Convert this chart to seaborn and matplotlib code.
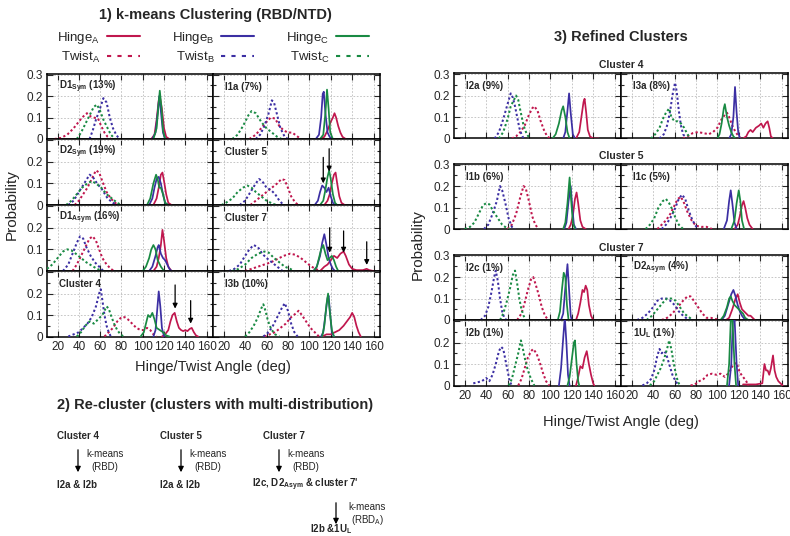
import matplotlib
matplotlib.use("Agg")
import matplotlib.pyplot as plt
import seaborn as sns
import pandas as pd
from matplotlib.lines import Line2D
from matplotlib.patches import FancyArrowPatch
from matplotlib.ticker import FixedLocator

# ---------------------------------------------------------------- data
# each series: list of [angle (deg), probability]
D1_SYM = {
    "Hinge A": [[108,0],[111,0.02],[113,0.09],[115,0.18],[116,0.2],[118,0.14],[120,0.05],[122,0.01],[125,0]],
    "Hinge B": [[109,0],[112,0.03],[114,0.12],[115.5,0.2],[117,0.13],[119,0.03],[121,0]],
    "Hinge C": [[110,0],[113,0.05],[115,0.17],[116,0.225],[117.5,0.15],[119,0.04],[121,0]],
    "Twist A": [[17,0],[23,0.005],[29,0.02],[35,0.05],[43,0.1],[47.5,0.12],[51,0.105],[54,0.1],[58,0.095],[61,0.06],[64,0.03],[67,0.01],[70,0]],
    "Twist B": [[50,0],[53,0.04],[56,0.09],[59,0.13],[63,0.19],[66,0.17],[69,0.1],[72,0.05],[75,0.02],[78,0]],
    "Twist C": [[38,0],[42,0.03],[45,0.06],[49,0.1],[54,0.15],[57,0.16],[60,0.13],[63,0.09],[66,0.06],[70,0.02],[74,0]],
}
I1A = {
    "Hinge A": [[110,0],[114,0.01],[117,0.04],[120,0.08],[122,0.1],[123.5,0.12],[125,0.1],[127,0.06],[129,0.03],[131,0.01],[134,0]],
    "Hinge B": [[106,0],[109,0.02],[111,0.1],[112.5,0.21],[113.5,0.22],[115,0.12],[117,0.03],[119,0.01],[121,0]],
    "Hinge C": [[110,0],[113,0.02],[115,0.12],[116.5,0.23],[118,0.14],[119.5,0.03],[122,0]],
    "Twist A": [[44,0],[50,0.02],[55,0.05],[60,0.08],[64,0.1],[68,0.095],[72,0.06],[76,0.04],[80,0.03],[84,0.03],[88,0.015],[92,0]],
    "Twist B": [[50,0],[54,0.02],[58,0.06],[62,0.12],[65,0.18],[67,0.17],[70,0.11],[73,0.05],[77,0.01],[80,0]],
    "Twist C": [[28,0],[33,0.02],[38,0.06],[43,0.11],[46,0.13],[50,0.12],[55,0.08],[60,0.05],[65,0.03],[70,0.01],[74,0]],
}
D2_SYM = {
    "Hinge A": [[110,0],[113,0.03],[115,0.08],[117,0.14],[118.5,0.15],[120,0.11],[122,0.05],[124,0.01],[127,0]],
    "Hinge B": [[106,0],[109,0.03],[111,0.08],[113,0.12],[115,0.13],[117,0.1],[119,0.05],[121,0.01],[124,0]],
    "Hinge C": [[104,0],[107,0.03],[110,0.1],[112.5,0.14],[114,0.12],[115.5,0.08],[117,0.08],[119,0.05],[121,0.01],[124,0]],
    "Twist A": [[36,0],[40,0.02],[44,0.05],[48,0.08],[52,0.12],[56,0.16],[59,0.15],[62,0.11],[66,0.06],[70,0.03],[74,0.01],[77,0]],
    "Twist B": [[30,0],[35,0.02],[40,0.06],[45,0.1],[50,0.14],[53,0.13],[57,0.1],[62,0.07],[67,0.03],[72,0.01],[76,0]],
    "Twist C": [[28,0],[33,0.02],[38,0.05],[43,0.08],[48,0.1],[52,0.11],[56,0.1],[61,0.08],[66,0.05],[71,0.03],[76,0.01],[80,0]],
}
CLUSTER_5 = {
    "Hinge A": [[114,0],[117,0.02],[119,0.05],[121,0.1],[123,0.14],[124.5,0.15],[126,0.1],[128,0.04],[130,0.01],[133,0]],
    "Hinge B": [[105,0],[108,0.02],[110,0.06],[112,0.09],[114,0.08],[116,0.06],[118,0.08],[120,0.04],[122,0.01],[124,0]],
    "Hinge C": [[110,0],[113,0.02],[115,0.07],[117,0.13],[118.5,0.16],[120,0.12],[122,0.05],[124,0.01],[126,0]],
    "Twist A": [[45,0],[50,0.02],[55,0.04],[60,0.06],[65,0.08],[70,0.1],[74,0.12],[77,0.115],[80,0.08],[83,0.04],[87,0.01],[90,0]],
    "Twist B": [[35,0],[40,0.02],[45,0.06],[50,0.1],[53,0.12],[56,0.11],[60,0.08],[64,0.07],[68,0.05],[72,0.02],[76,0]],
    "Twist C": [[18,0],[22,0.01],[28,0.03],[33,0.06],[38,0.08],[42,0.09],[46,0.08],[50,0.06],[55,0.04],[60,0.02],[66,0.005],[70,0]],
}
D1_ASYM = {
    "Hinge A": [[110,0],[113,0.02],[115,0.06],[117,0.12],[118.5,0.19],[120,0.14],[122,0.06],[124,0.02],[127,0]],
    "Hinge B": [[106,0],[109,0.02],[112,0.07],[114,0.11],[115,0.12],[117,0.08],[119,0.06],[121,0.05],[123,0.03],[125,0.01],[127,0]],
    "Hinge C": [[100,0],[103,0.02],[106,0.06],[108,0.1],[110,0.12],[112,0.1],[114,0.05],[117,0.02],[120,0]],
    "Twist A": [[34,0],[38,0.03],[42,0.07],[46,0.11],[50,0.15],[53,0.16],[56,0.14],[59,0.1],[62,0.06],[66,0.03],[70,0.01],[73,0]],
    "Twist B": [[25,0],[30,0.03],[34,0.08],[38,0.13],[41,0.16],[44,0.15],[47,0.11],[51,0.07],[55,0.04],[59,0.02],[63,0]],
    "Twist C": [[10,0.01],[15,0.03],[20,0.06],[25,0.09],[29,0.1],[33,0.095],[37,0.08],[42,0.06],[47,0.04],[52,0.025],[57,0.01],[62,0]],
}
CLUSTER_7 = {
    "Hinge A": [[110,0],[114,0.02],[117,0.03],[120,0.05],[123,0.07],[126,0.06],[129,0.08],[132,0.09],[134,0.07],[137,0.03],[140,0.01],[144,0.004],[150,0.004],[153.5,0.01],[156,0.004],[160,0]],
    "Hinge B": [[104,0],[107,0.02],[110,0.07],[112,0.13],[114,0.17],[116,0.12],[118,0.06],[120,0.03],[122,0.01],[124,0]],
    "Hinge C": [[104,0],[107,0.02],[109,0.06],[111,0.1],[113,0.12],[115,0.08],[117,0.05],[119,0.06],[121,0.07],[123,0.05],[125,0.02],[127,0]],
    "Twist A": [[40,0],[46,0.01],[52,0.02],[58,0.03],[64,0.04],[70,0.055],[76,0.07],[82,0.08],[87,0.075],[92,0.06],[97,0.04],[102,0.02],[106,0.01],[110,0]],
    "Twist B": [[25,0],[30,0.01],[35,0.03],[40,0.07],[44,0.1],[48,0.12],[52,0.11],[56,0.08],[60,0.06],[65,0.04],[70,0.02],[75,0]],
    "Twist C": [[28,0],[34,0.01],[40,0.03],[46,0.06],[52,0.08],[58,0.09],[62,0.085],[67,0.06],[72,0.04],[77,0.02],[82,0.01],[86,0]],
}
CLUSTER_4 = {
    "Hinge A": [[118,0],[121,0.01],[124,0.03],[126,0.07],[128,0.1],[130,0.11],[132,0.07],[134,0.04],[136,0.03],[138,0.025],[140,0.03],[142,0.025],[144,0.035],[146,0.04],[148,0.02],[150,0.005],[152,0]],
    "Hinge B": [[110,0],[112,0.03],[113.5,0.12],[115,0.21],[116.5,0.14],[118,0.04],[120,0]],
    "Hinge C": [[98,0],[101,0.02],[103,0.06],[105,0.1],[107,0.09],[109,0.11],[111,0.08],[113,0.04],[116,0.03],[119,0.02],[122,0.005],[125,0]],
    "Twist A": [[64,0],[68,0.02],[72,0.04],[76,0.07],[80,0.09],[83,0.09],[86,0.08],[90,0.06],[94,0.04],[98,0.03],[101,0.03],[104,0.04],[107,0.03],[110,0.01],[113,0]],
    "Twist B": [[30,0],[35,0.01],[40,0.02],[44,0.04],[48,0.06],[52,0.09],[56,0.14],[59,0.2],[60.5,0.22],[62,0.17],[64,0.1],[66,0.05],[68,0.02],[70,0]],
    "Twist C": [[38,0],[42,0.02],[46,0.05],[50,0.07],[54,0.06],[58,0.08],[62,0.1],[64,0.12],[66,0.14],[68,0.13],[70,0.1],[73,0.06],[76,0.03],[79,0.01],[82,0]],
}
I3B = {
    "Hinge A": [[112,0],[116,0.01],[120,0.01],[124,0.02],[128,0.03],[132,0.05],[135,0.07],[138,0.09],[140,0.11],[142,0.09],[144,0.05],[146,0.02],[148,0]],
    "Hinge B": [[111,0],[113,0.02],[115,0.1],[117,0.18],[118,0.19],[119.5,0.1],[121,0.02],[123,0]],
    "Hinge C": [[112,0],[114,0.05],[116,0.15],[117.5,0.2],[119,0.12],[121,0.03],[123,0]],
    "Twist A": [[58,0],[63,0.01],[68,0.02],[73,0.04],[78,0.06],[83,0.09],[88,0.11],[90,0.12],[93,0.1],[97,0.07],[101,0.04],[105,0.02],[109,0]],
    "Twist B": [[57,0],[62,0.02],[66,0.05],[70,0.09],[74,0.13],[77,0.155],[80,0.12],[83,0.06],[86,0.02],[89,0]],
    "Twist C": [[40,0],[44,0.02],[48,0.05],[52,0.09],[55,0.13],[57,0.15],[59,0.12],[61,0.08],[63,0.05],[65,0.03],[68,0.01],[72,0]],
}
I2A = {
    "Hinge A": [[124,0],[127,0.03],[129,0.1],[131,0.17],[132,0.185],[133.5,0.12],[135,0.04],[137,0.01],[140,0],[145,0]],
    "Hinge B": [[112,0],[114,0.03],[116,0.13],[117.5,0.21],[119,0.12],[121,0.02],[123,0]],
    "Hinge C": [[102,0],[105,0.02],[108,0.07],[110.5,0.13],[112,0.15],[114,0.1],[116,0.03],[118,0]],
    "Twist A": [[64,0],[68,0.01],[72,0.03],[76,0.06],[80,0.11],[83,0.14],[85,0.15],[88,0.13],[91,0.08],[94,0.04],[97,0.01],[100,0]],
    "Twist B": [[48,0],[52,0.03],[56,0.09],[60,0.16],[63,0.21],[65,0.19],[67,0.15],[69,0.1],[71,0.05],[73,0.02],[75,0]],
    "Twist C": [[52,0],[56,0.03],[60,0.09],[63,0.15],[66,0.18],[68,0.2],[70,0.18],[72,0.13],[75,0.06],[78,0.02],[81,0]],
}
I3A = {
    "Hinge A": [[124,0],[127,0.01],[129,0.03],[131,0.04],[133,0.03],[136,0.05],[139,0.06],[141,0.07],[143,0.05],[145,0.07],[147,0.08],[148.5,0.05],[150,0.01],[152,0]],
    "Hinge B": [[111,0],[113,0.02],[115,0.1],[116.5,0.24],[118,0.12],[119.5,0.03],[121,0]],
    "Hinge C": [[100,0],[102,0.02],[104,0.07],[106,0.14],[107,0.16],[109,0.1],[111,0.06],[113,0.03],[115,0.01],[117,0]],
    "Twist A": [[68,0],[72,0.01],[77,0.025],[82,0.03],[87,0.025],[92,0.02],[96,0.03],[100,0.05],[104,0.09],[107,0.11],[109,0.12],[111,0.1],[114,0.06],[117,0.03],[120,0.01],[122,0]],
    "Twist B": [[46,0],[50,0.02],[53,0.06],[56,0.13],[58,0.2],[60.5,0.26],[62,0.22],[64,0.13],[66,0.06],[68,0.02],[71,0]],
    "Twist C": [[38,0],[42,0.02],[46,0.05],[49,0.09],[52,0.12],[55,0.14],[57,0.1],[60,0.08],[63,0.08],[66,0.07],[69,0.05],[72,0.02],[75,0]],
}
I1B = {
    "Hinge A": [[117,0],[119,0.02],[121,0.06],[123,0.14],[124.5,0.17],[126,0.12],[128,0.04],[130,0.01],[133,0]],
    "Hinge B": [[113,0],[115,0.03],[117,0.13],[119,0.2],[120.5,0.1],[122,0.02],[124,0]],
    "Hinge C": [[112,0],[114,0.03],[116,0.12],[118,0.24],[119.5,0.13],[121,0.03],[123,0]],
    "Twist A": [[60,0],[64,0.02],[68,0.07],[72,0.15],[75,0.2],[77,0.19],[80,0.13],[83,0.06],[86,0.02],[89,0]],
    "Twist B": [[38,0],[42,0.02],[46,0.07],[50,0.13],[53,0.2],[55,0.18],[58,0.12],[61,0.05],[64,0.01],[67,0]],
    "Twist C": [[20,0],[25,0.01],[29,0.03],[33,0.07],[37,0.11],[40,0.12],[43,0.115],[47,0.08],[51,0.05],[55,0.02],[59,0.005],[62,0]],
}
I1C = {
    "Hinge A": [[116,0],[119,0.02],[121,0.06],[123,0.11],[124.5,0.13],[126,0.1],[128,0.05],[130,0.02],[133,0]],
    "Hinge B": [[106,0],[109,0.04],[111,0.13],[112.5,0.18],[114,0.12],[116,0.03],[118,0]],
    "Hinge C": [[113,0],[116,0.04],[118,0.12],[120,0.18],[121.5,0.13],[123,0.04],[125,0]],
    "Twist A": [[44,0],[48,0.02],[52,0.04],[56,0.07],[60,0.11],[63,0.14],[66,0.15],[69,0.12],[72,0.08],[76,0.04],[80,0.015],[85,0.01],[90,0.01],[95,0]],
    "Twist B": [[48,0],[52,0.02],[56,0.05],[60,0.09],[64,0.14],[67,0.16],[70,0.14],[73,0.09],[76,0.05],[79,0.02],[82,0]],
    "Twist C": [[33,0],[37,0.02],[41,0.05],[45,0.1],[49,0.13],[52,0.14],[55,0.12],[58,0.09],[61,0.05],[64,0.02],[68,0]],
}
I2C = {
    "Hinge A": [[124,0],[126,0.03],[128,0.08],[130,0.14],[131.5,0.13],[133,0.16],[134.5,0.14],[136,0.07],[138,0.02],[140,0]],
    "Hinge B": [[110,0],[112,0.03],[114,0.15],[116,0.26],[117.5,0.14],[119,0.02],[120,0]],
    "Hinge C": [[107,0],[109,0.04],[111,0.15],[112.5,0.22],[114,0.2],[115.5,0.07],[117,0]],
    "Twist A": [[69,0],[73,0.03],[76,0.08],[79,0.14],[82,0.19],[84,0.2],[86,0.17],[89,0.12],[92,0.06],[95,0.02],[98,0]],
    "Twist B": [[35,0],[39,0.02],[42,0.06],[45,0.13],[47.5,0.2],[49,0.23],[51,0.18],[53,0.1],[55,0.04],[57,0.01],[59,0]],
    "Twist C": [[53,0],[56,0.03],[59,0.08],[62,0.14],[65,0.21],[67,0.23],[69,0.17],[71,0.1],[73,0.05],[75,0.02],[77,0]],
}
D2_ASYM = {
    "Hinge A": [[108,0],[111,0.01],[114,0.05],[117,0.1],[119,0.12],[121,0.08],[123,0.05],[125,0.04],[127,0.03],[129,0.02],[131,0.02],[133,0.01],[135,0]],
    "Hinge B": [[104,0],[107,0.02],[110,0.07],[113,0.12],[115,0.14],[117,0.11],[119,0.07],[121,0.04],[123,0.02],[126,0]],
    "Hinge C": [[103,0],[106,0.02],[109,0.06],[111,0.1],[112.5,0.11],[114,0.09],[116,0.07],[118,0.06],[120,0.05],[122,0.04],[124,0.03],[126,0.01],[129,0]],
    "Twist A": [[48,0],[53,0.01],[58,0.03],[63,0.06],[68,0.09],[72,0.11],[75,0.11],[78,0.09],[82,0.06],[86,0.03],[90,0.01],[94,0.01],[98,0.005],[102,0]],
    "Twist B": [[25,0],[30,0.01],[35,0.03],[40,0.06],[44,0.09],[48,0.1],[52,0.1],[56,0.09],[60,0.07],[64,0.04],[68,0.02],[72,0.005],[76,0]],
    "Twist C": [[34,0],[39,0.02],[44,0.05],[49,0.08],[53,0.1],[57,0.1],[61,0.09],[65,0.06],[69,0.03],[73,0.015],[77,0]],
}
I2B = {
    "Hinge A": [[124,0],[126,0.04],[128,0.09],[130,0.08],[132,0.13],[134,0.16],[136,0.1],[138,0.05],[140,0.01],[141,0]],
    "Hinge B": [[108,0],[110,0.08],[112,0.22],[113.5,0.32],[115,0.2],[116.5,0.05],[118,0]],
    "Hinge C": [[116,0],[118,0.04],[120,0.12],[122,0.2],[123,0.21],[124.5,0.1],[126,0.02],[127,0]],
    "Twist A": [[70,0],[73,0.03],[76,0.08],[79,0.13],[82,0.16],[84,0.17],[87,0.15],[90,0.11],[93,0.06],[96,0.02],[99,0]],
    "Twist B": [[28,0.01],[32,0.015],[36,0.02],[40,0.035],[43,0.02],[46,0.05],[49,0.1],[52,0.16],[54,0.18],[56,0.17],[58,0.12],[60,0.07],[62,0.02],[64,0]],
    "Twist C": [[61,0],[64,0.03],[67,0.09],[70,0.15],[72.5,0.21],[74,0.18],[76,0.13],[79,0.07],[82,0.03],[85,0]],
}
U1L = {
    "Hinge A": [[124,0.005],[130,0.005],[136,0.005],[142,0.01],[144,0.1],[145.5,0.07],[147,0.07],[148.5,0.05],[150,0.08],[152,0.14],[153.5,0.07],[155,0.04],[157,0.02],[159,0.01],[161,0]],
    "Hinge B": [[111,0],[113,0.1],[114.5,0.3],[116,0.32],[118,0.1],[119.5,0]],
    "Hinge C": [[109,0],[111,0.1],[112.5,0.3],[114,0.32],[116,0.1],[117.5,0]],
    "Twist A": [[75,0],[79,0.005],[83,0.02],[87,0.03],[91,0.05],[95,0.055],[99,0.05],[103,0.055],[107,0.04],[111,0.06],[115,0.1],[118,0.105],[121,0.06],[124,0.04],[127,0.02],[129,0]],
    "Twist B": [[30,0],[34,0.01],[38,0.03],[41,0.07],[44,0.14],[46,0.17],[48,0.15],[50,0.16],[52,0.15],[55,0.1],[58,0.05],[61,0.02],[64,0]],
    "Twist C": [[37,0],[41,0.02],[44,0.05],[47,0.08],[50,0.12],[53,0.17],[55,0.21],[57,0.17],[59,0.11],[61,0.06],[63,0.02],[65,0]],
}

LEFT_PANELS = [D1_SYM, I1A, D2_SYM, CLUSTER_5, D1_ASYM, CLUSTER_7, CLUSTER_4, I3B]
LEFT_LABELS = [r"D1$_{\mathbf{Sym}}$ (13%)", "I1a (7%)", r"D2$_{\mathbf{Sym}}$ (19%)", "Cluster 5",
               r"D1$_{\mathbf{Asym}}$ (16%)", "Cluster 7", "Cluster 4", "I3b (10%)"]
RIGHT_PANELS = [I2A, I3A, I1B, I1C, I2C, D2_ASYM, I2B, U1L]
RIGHT_LABELS = ["I2a (9%)", "I3a (8%)", "I1b (6%)", "I1c (5%)", "I2c (1%)",
                r"D2$_{\mathbf{Asym}}$ (4%)", "I2b (1%)", r"1U$_{\mathbf{L}}$ (1%)"]
RIGHT_GROUPS = ["Cluster 4", "Cluster 5", "Cluster 7"]

# arrows marking sub-populations: panel index -> [angle, tip prob, tail prob]
ARROWS = {
    3: [[113, 0.10, 0.22], [118.5, 0.155, 0.26]],
    5: [[119, 0.085, 0.20], [132, 0.085, 0.185], [153.6, 0.028, 0.135]],
    6: [[130.4, 0.13, 0.24], [145, 0.06, 0.167]],
}

ANGLE_TICKS = [20, 40, 60, 80, 100, 120, 140, 160]
PROB_TICKS = [0, 0.1, 0.2, 0.3]
PROB_TICK_LABELS = ["0", "0.1", "0.2", "0.3"]

PALETTE = {"A": "#c0174e", "B": "#3c2fa3", "C": "#198a43"}

# ---------------------------------------------------------------- style
sns.set_style("white")
FONT = "Liberation Sans"
plt.rcParams["font.family"] = [FONT, "DejaVu Sans"]
plt.rcParams["mathtext.fontset"] = "custom"
plt.rcParams["mathtext.rm"] = FONT
plt.rcParams["mathtext.it"] = FONT + ":italic"
plt.rcParams["mathtext.bf"] = FONT + ":bold"

W, H = 790, 536
fig = plt.figure(figsize=(W / 100, H / 100), dpi=100)
fig.patch.set_facecolor("white")


def box(x0, y0, x1, y1):
    return [x0 / W, 1 - y1 / H, (x1 - x0) / W, (y1 - y0) / H]


def fx(x):
    return x / W


def fy(y):
    return 1 - y / H


def to_frame(panel):
    rows = []
    for series, pts in panel.items():
        kind, chain = series.split()
        for a, p in pts:
            rows.append((series, kind, chain, a, p))
    return pd.DataFrame(rows, columns=["series", "kind", "chain", "angle", "prob"])


def draw_panel(ax, panel, label, show_xlab, show_ylab, show_top_lab):
    df = to_frame(panel)
    sns.lineplot(data=df, x="angle", y="prob", hue="chain", style="kind", size="kind",
                 units="series", estimator=None, sort=True,
                 palette=PALETTE, dashes={"Hinge": "", "Twist": (1.1, 1.2)},
                 sizes={"Hinge": 1.25, "Twist": 1.45}, legend=False, ax=ax, zorder=3)
    ax.set_xlim(10, 166)
    ax.set_ylim(0, 0.305)
    ax.set_xlabel("")
    ax.set_ylabel("")
    ax.xaxis.set_major_locator(FixedLocator(ANGLE_TICKS))
    ax.yaxis.set_major_locator(FixedLocator(PROB_TICKS))
    ax.yaxis.set_minor_locator(FixedLocator([0.05, 0.15, 0.25]))
    ax.set_yticklabels(PROB_TICK_LABELS)
    ax.set_xticklabels([str(t) for t in ANGLE_TICKS])
    ax.tick_params(which="both", direction="in", top=True, right=True, bottom=True, left=True,
                   labelsize=8.5, pad=3, width=0.8)
    ax.tick_params(which="major", length=4)
    ax.tick_params(which="minor", length=2.5)
    ax.tick_params(labelbottom=show_xlab, labelleft=show_ylab)
    if show_ylab and not show_top_lab:
        ax.get_yticklabels()[-1].set_visible(False)
    ax.grid(True, which="major", color="#bdbdbd", linestyle=(0, (2, 2)), linewidth=0.6, zorder=0)
    for s in ax.spines.values():
        s.set_color("black")
        s.set_linewidth(1.1)
    ax.text(0.072, 0.80, label, transform=ax.transAxes, fontsize=7, fontweight="bold",
            va="center", ha="left")


# ---------------------------------------------------------------- left block
L_COLS = [(47, 213), (213, 380)]
L_ROWS = [(73.5, 139), (139, 205), (205, 271), (271, 336.5)]
for i, (panel, lab) in enumerate(zip(LEFT_PANELS, LEFT_LABELS)):
    r, c = divmod(i, 2)
    ax = fig.add_axes(box(L_COLS[c][0], L_ROWS[r][0], L_COLS[c][1], L_ROWS[r][1]))
    draw_panel(ax, panel, lab, show_xlab=(r == 3), show_ylab=(c == 0), show_top_lab=(r == 0))
    for ang, tip, tail in ARROWS.get(i, []):
        ax.annotate("", xy=(ang, tip), xytext=(ang, tail),
                    arrowprops=dict(arrowstyle="-|>", color="black", lw=0.9,
                                    mutation_scale=7, shrinkA=0, shrinkB=0), zorder=5)

# ---------------------------------------------------------------- right block
R_COLS = [(454, 621), (621, 788)]
R_ROWS = [(73, 138.5), (163.5, 229), (254.5, 320), (320, 385.5)]
for i, (panel, lab) in enumerate(zip(RIGHT_PANELS, RIGHT_LABELS)):
    r, c = divmod(i, 2)
    ax = fig.add_axes(box(R_COLS[c][0], R_ROWS[r][0], R_COLS[c][1], R_ROWS[r][1]))
    draw_panel(ax, panel, lab, show_xlab=(r == 3), show_ylab=(c == 0), show_top_lab=(r < 3))

# ---------------------------------------------------------------- texts
fig.text(fx(215), fy(15), "1) k-means Clustering (RBD/NTD)", ha="center", va="center",
         fontsize=10.5, fontweight="bold")
fig.text(fx(621), fy(37), "3) Refined Clusters", ha="center", va="center",
         fontsize=10.5, fontweight="bold")
for txt, yy in zip(RIGHT_GROUPS, [65, 156, 248]):
    fig.text(fx(621), fy(yy), txt, ha="center", va="center", fontsize=7.5, fontweight="bold")

fig.text(fx(12), fy(205), "Probability", rotation=90, ha="center", va="center", fontsize=11)
fig.text(fx(418), fy(245), "Probability", rotation=90, ha="center", va="center", fontsize=11)
fig.text(fx(213), fy(367), "Hinge/Twist Angle (deg)", ha="center", va="center", fontsize=10.5)
fig.text(fx(621), fy(422), "Hinge/Twist Angle (deg)", ha="center", va="center", fontsize=10.5)

# legend
handles, labels = [], []
for ch in ["A", "B", "C"]:
    handles.append(Line2D([], [], color=PALETTE[ch], lw=1.5))
    labels.append(r"Hinge$_{\mathrm{%s}}$" % ch)
    handles.append(Line2D([], [], color=PALETTE[ch], lw=1.5, dashes=(2.0, 3.0)))
    labels.append(r"Twist$_{\mathrm{%s}}$" % ch)
fig.legend(handles, labels, ncol=3, loc="upper left", bbox_to_anchor=(fx(57), fy(30)),
           markerfirst=False, frameon=False, fontsize=9.5, handlelength=2.5,
           handletextpad=0.55, columnspacing=2.4, labelspacing=0.3, borderpad=0,
           borderaxespad=0)

# ---------------------------------------------------------------- re-cluster scheme
fig.text(fx(215), fy(405), "2) Re-cluster (clusters with multi-distribution)", ha="center",
         va="center", fontsize=10.5, fontweight="bold")


def arrow(x, y0, y1):
    fig.add_artist(FancyArrowPatch(
        (fx(x), fy(y0)), (fx(x), fy(y1)), transform=fig.transFigure,
        arrowstyle="-|>", mutation_scale=8, color="black", lw=0.9))


FLOW = [
    (57, 78, "Cluster 4", "I2a & I2b"),
    (160, 181, "Cluster 5", "I2a & I2b"),
    (263, 279, "Cluster 7", None),
]
for x_txt, x_arr, top, bottom in FLOW:
    fig.text(fx(x_txt), fy(436), top, ha="left", va="center", fontsize=7, fontweight="bold")
    arrow(x_arr, 447, 475)
    fig.text(fx(x_arr + 8), fy(454), "k-means", ha="left", va="center", fontsize=7)
    fig.text(fx(x_arr + 13), fy(467), "(RBD)", ha="left", va="center", fontsize=7)
    if bottom:
        fig.text(fx(x_txt), fy(485), bottom, ha="left", va="center", fontsize=7, fontweight="bold")
fig.text(fx(252), fy(485), r"I2c, D2$_{\mathbf{Asym}}$ & cluster 7'", ha="left", va="center",
         fontsize=7, fontweight="bold")
arrow(336, 500, 527)
fig.text(fx(348), fy(507), "k-means", ha="left", va="center", fontsize=7)
fig.text(fx(351), fy(520), r"(RBD$_{\mathrm{A}}$)", ha="left", va="center", fontsize=7)
fig.text(fx(310), fy(529), r"I2b &1U$_{\mathbf{L}}$", ha="left", va="center", fontsize=7,
         fontweight="bold")

fig.savefig("out.png", dpi=100, facecolor="white")
